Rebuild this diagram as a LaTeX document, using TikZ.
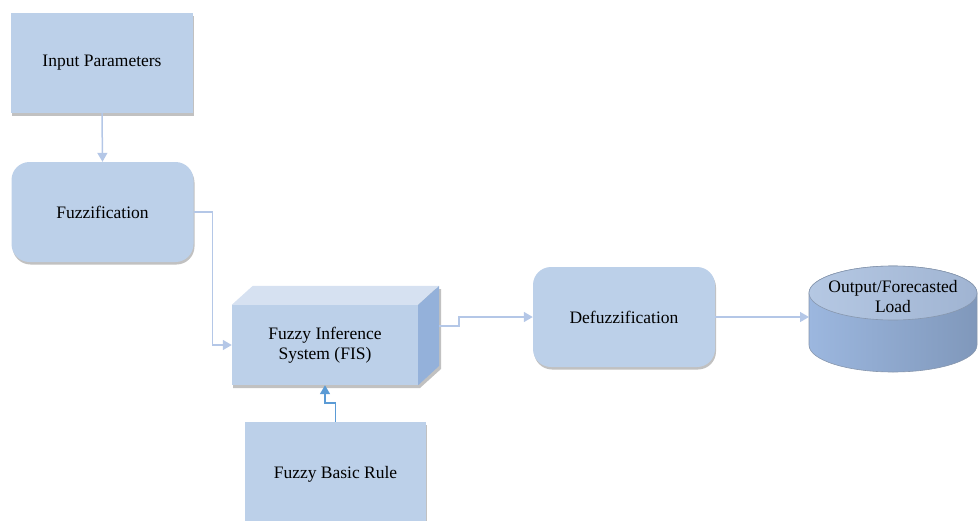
\documentclass[tikz,border=0pt]{standalone}
\usepackage{fontspec}
\setmainfont{Liberation Serif}
\usetikzlibrary{arrows.meta,shadows}
\definecolor{boxfill}{HTML}{BCD0E9}
\definecolor{topface}{HTML}{D6E1F1}
\definecolor{sideface}{HTML}{94B1DA}
\definecolor{conn}{HTML}{B4C7E7}
\definecolor{connd}{HTML}{5B9BD5}
\definecolor{cylL}{HTML}{9CB7DF}
\definecolor{cylR}{HTML}{8098BB}
\definecolor{cyltopL}{HTML}{B5C8E3}
\definecolor{cyltopR}{HTML}{A0B4D2}
\definecolor{cyledge}{HTML}{8797AE}
\tikzset{
  boxsh/.style={drop shadow={shadow xshift=1pt,shadow yshift=-2.5pt,opacity=.35,fill=black!70}},
  sqbox/.style={fill=boxfill,draw=none,minimum width=182pt,minimum height=100pt,inner sep=0pt,align=center,boxsh},
  rndbox/.style={sqbox,rounded corners=18pt},
  conline/.style={draw=conn,line width=1.5pt,-{Triangle[width=10pt,length=9pt]}},
  condark/.style={draw=connd,line width=1.5pt,-{Triangle[width=10pt,length=9pt]}},
  txt/.style={font=\fontsize{17.5}{20}\selectfont}
}
\begin{document}
\begin{tikzpicture}[x=1pt,y=-1pt,every node/.style={txt}]
\useasboundingbox (0,0) rectangle (978,520);

% nodes
\node[sqbox] (inp) at (102,63) {Input Parameters};
\node[rndbox] (fuz) at (102.5,212) {Fuzzification};
\node[rndbox] (def) at (624,317) {Defuzzification};
\node[sqbox,minimum width=181pt,minimum height=104pt] (rule) at (335.5,474) {Fuzzy Basic Rule};

% FIS 3D box
\fill[black!70,opacity=.35] (233,308) -- (254,289) -- (441,289) -- (441,369) -- (420,388) -- (233,388) -- cycle;
\node[fill=boxfill,minimum width=186pt,minimum height=80pt,inner sep=0pt,align=center] (fis) at (325,345) {Fuzzy Inference\\System (FIS)};
\fill[topface] (fis.north west) -- ++(21,-19) -- ++(186,0) -- (fis.north east) -- cycle;
\fill[sideface] (fis.north east) -- ++(21,-19) -- ++(0,80) -- (fis.south east) -- cycle;
\coordinate (fisR) at (439,326);

% cylinder
\shade[left color=cylL,right color=cylR,draw=cyledge,line width=.6pt]
  (809,293) -- (809,345) arc[start angle=180,end angle=360,x radius=84pt,y radius=27pt]
  -- (977,293) arc[start angle=0,end angle=180,x radius=84pt,y radius=27pt] -- cycle;
\shade[left color=cyltopL,right color=cyltopR,draw=cyledge,line width=.6pt]
  (893,293) ellipse[x radius=84pt,y radius=27pt];
\node[align=center] (out) at (893,297) {Output/Forecasted\\Load};
\coordinate (cylW) at (809,317);

% connectors
\draw[conline] (inp.south) -- (fuz.north);
\draw[conline] (fuz.east) -- ++(19,0) |- (fis.west);
\draw[conline] (fisR) -- ++(20,0) -- ++(0,-9) -- (def.west);
\draw[conline] (def.east) -- (cylW);
\draw[condark] (rule.north) -- ++(0,-19) -| (fis.south);
\end{tikzpicture}
\end{document}
